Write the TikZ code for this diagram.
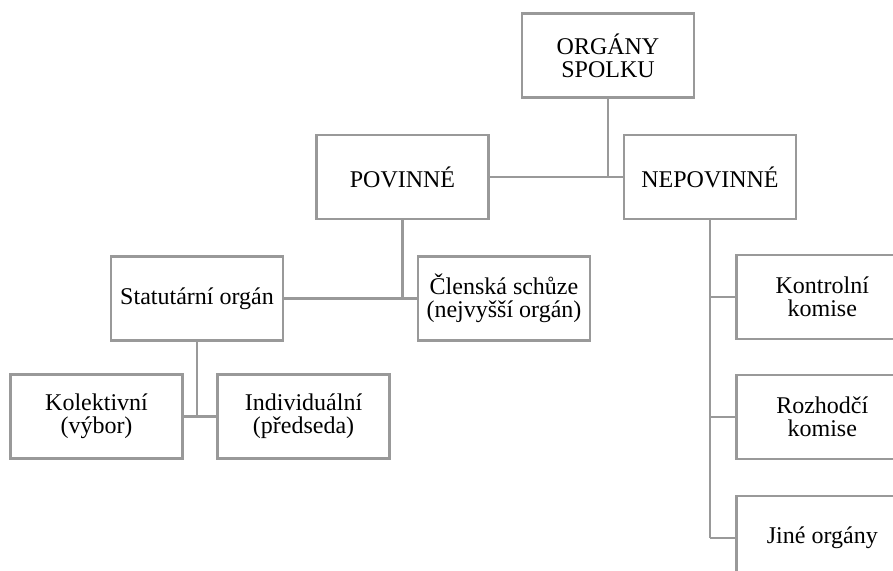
\documentclass[tikz,border=0pt]{standalone}
\usepackage{fontspec}
\setmainfont{Liberation Serif}
\usetikzlibrary{positioning}

\tikzset{
	organ/.style={draw=gray!80, line width=1.3pt, fill=white, minimum width=86pt, minimum height=42pt, inner sep=2pt, align=center, font=\fontsize{12}{11.5}\selectfont},
	spoj/.style={draw=gray!80, line width=1.3pt}
}

\begin{document}
\begin{tikzpicture}[x=0.5pt,y=-0.5pt]
	\useasboundingbox (0,0) rectangle (893,570);
	\clip (0,0) rectangle (893,570);
	
	% top level
	\node[organ] (spolek) at (608,55.5) {ORGÁNY\\SPOLKU};
	
	\node[organ] (povinne) at (402.5,177) {POVINNÉ};
	
	\node[organ] (nepovinne) at (710,177) {NEPOVINNÉ};
	
	% povinne
	\node[organ] (statutar) at (197,298.5) {Statutární orgán};
	
	\node[organ] (schuze) at (504,298.5) {Členská schůze\\(nejvyšší orgán)};
	
	\node[organ] (kolektiv) at (96.5,416.5) {Kolektivní\\(výbor)};
	
	\node[organ] (individ) at (303.5,416.5) {Individuální\\(předseda)};
	
	% nepovinne
	\node[organ, anchor=west] (kontrola) at (735,297) {Kontrolní\\komise};
	
	\node[organ, anchor=west] (rozhodci) at (735,417) {Rozhodčí\\komise};
	
	\node[organ, anchor=west] (jine) at (735,538) {Jiné orgány};
	
	% connectors
	\draw[spoj] (spolek.south) -- (spolek.south |- povinne.east);
	
	\draw[spoj] (povinne.east) -- (nepovinne.west);
	
	\draw[spoj] (povinne.south) -- (povinne.south |- statutar.east);
	
	\draw[spoj] (statutar.east) -- (schuze.west);
	
	\draw[spoj] (statutar.south) -- (statutar.south |- kolektiv.east);
	
	\draw[spoj] (kolektiv.east) -- (individ.west);
	
	\draw[spoj] (nepovinne.south) -- (nepovinne.south |- jine.west);
	
	\draw[spoj] (nepovinne.south |- kontrola.west) -- (kontrola.west);
	
	\draw[spoj] (nepovinne.south |- rozhodci.west) -- (rozhodci.west);
	
	\draw[spoj] (nepovinne.south |- jine.west) -- (jine.west);
	
\end{tikzpicture}
\end{document}
